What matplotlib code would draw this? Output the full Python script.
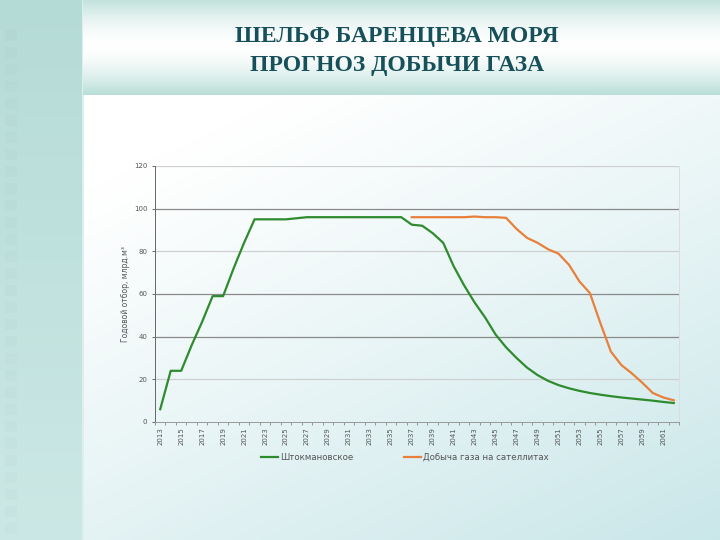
import numpy as np
import matplotlib
matplotlib.use("Agg")
import matplotlib.pyplot as plt

# data (млрд. м3 per year)
years = list(range(2013, 2063))
shtokman = [6, 24, 24, 36, 47, 59, 59, 72, 84, 95,
            95, 95, 95, 95.5, 96, 96, 96, 96, 96, 96,
            96, 96, 96, 96, 92.5, 92, 88.5, 84, 73, 64,
            56, 49, 41, 35, 30, 25.5, 22, 19.3, 17.3, 15.8,
            14.6, 13.6, 12.8, 12.1, 11.5, 11, 10.5, 10, 9.4, 8.9]
sat_years = list(range(2037, 2063))
satellites = [96, 96, 96, 96, 96, 96, 96.3, 96, 96, 95.7,
              90.5, 86.3, 84, 81, 78.9, 73.7, 65.9, 60.4, 46.3, 33,
              26.7, 22.8, 18.4, 13.6, 11.5, 10.2]
xtick_years = list(range(2013, 2062, 2))
yticks = [0, 20, 40, 60, 80, 100, 120]

title1 = "ШЕЛЬФ БАРЕНЦЕВА МОРЯ"
title2 = "ПРОГНОЗ ДОБЫЧИ ГАЗА"
ylabel = "Годовой отбор, млрд.м³"
names = ["Штокмановское", "Добыча газа на сателлитах"]

W, H = 720, 540
fig = plt.figure(figsize=(7.2, 5.4), dpi=100)

# slide background
bg = fig.add_axes([0, 0, 1, 1], zorder=-5)
bg.set_axis_off()
yy, xx = np.mgrid[0:H, 0:W]
white = np.array([1.0, 1.0, 1.0])
teal = np.array([0.78, 0.90, 0.91])
t = np.clip(0.8 * ((yy - 95) / H) + 0.5 * (xx / W) - 0.2, 0, 1) ** 1.1
img = white * (1 - t[..., None]) + teal * t[..., None]
# left panel
side_top = np.array([0.71, 0.86, 0.84])
side_bot = np.array([0.80, 0.91, 0.90])
s = (yy[:, :83] / H)[..., None]
img[:, :83] = side_top * (1 - s) + side_bot * s
img[:, 82:84] = np.array([0.86, 0.94, 0.93])
# top band
band_t = np.abs((yy[:95, 83:] - 45) / 50.0)
band_t = np.clip(band_t, 0, 1) ** 1.6
band_col = np.array([0.72, 0.87, 0.84])
img[:95, 83:] = white * (1 - band_t[..., None]) + band_col * band_t[..., None]
# faint squares on left strip
for k in range(30):
    y0 = 30 + k * 17
    if y0 + 11 < H:
        img[y0:y0 + 11, 5:17] = img[y0:y0 + 11, 5:17] * 0.985
bg.imshow(img, extent=[0, W, H, 0], aspect="auto")
bg.set_xlim(0, W)
bg.set_ylim(H, 0)

fig.text(0.551, 0.932, title1, ha="center", va="center", fontsize=17,
         fontweight="bold", family="Liberation Serif", color="#16505a")
fig.text(0.551, 0.878, title2, ha="center", va="center", fontsize=17,
         fontweight="bold", family="Liberation Serif", color="#16505a")

ax = fig.add_axes([155 / W, 1 - 422 / H, 524 / W, 256 / H])
ax.patch.set_alpha(0)
ax.plot(years, shtokman, color="#2e8b2e", lw=1.6, label=names[0], zorder=3)
ax.plot(sat_years, satellites, color="#e8803a", lw=1.6, label=names[1], zorder=3)

ax.set_xlim(2012.5, 2062.5)
ax.set_ylim(0, 120)
ax.set_yticks(yticks)
ax.set_xticks(xtick_years)
ax.set_xticklabels([str(y) for y in xtick_years], rotation=90)
ax.set_xticks(np.arange(2012.5, 2063, 1), minor=True)
ax.tick_params(axis="both", labelsize=5, colors="#555555", length=2, width=0.6)
ax.tick_params(axis="x", which="major", length=0, pad=4)
ax.tick_params(axis="x", which="minor", length=2, color="#888888")

for v in yticks[1:]:
    c = "#8a8a8a" if v in (40, 60, 100) else "#cfcfcf"
    ax.axhline(v, color=c, lw=0.9, zorder=1)

ax.spines["top"].set_visible(False)
ax.spines["left"].set_color("#666666")
ax.spines["left"].set_linewidth(0.7)
ax.spines["bottom"].set_color("#999999")
ax.spines["bottom"].set_linewidth(0.7)
ax.spines["right"].set_color("#dddddd")
ax.spines["right"].set_linewidth(0.7)

ax.set_ylabel(ylabel, fontsize=5.5, color="#555555", labelpad=3)

leg = ax.legend(loc="upper center", bbox_to_anchor=(0.477, -0.09), ncol=2,
                frameon=False, fontsize=6.2, handlelength=2.0, columnspacing=5.8,
                handletextpad=0.3)
for txt in leg.get_texts():
    txt.set_color("#555555")

fig.savefig("out.png", dpi=100)
